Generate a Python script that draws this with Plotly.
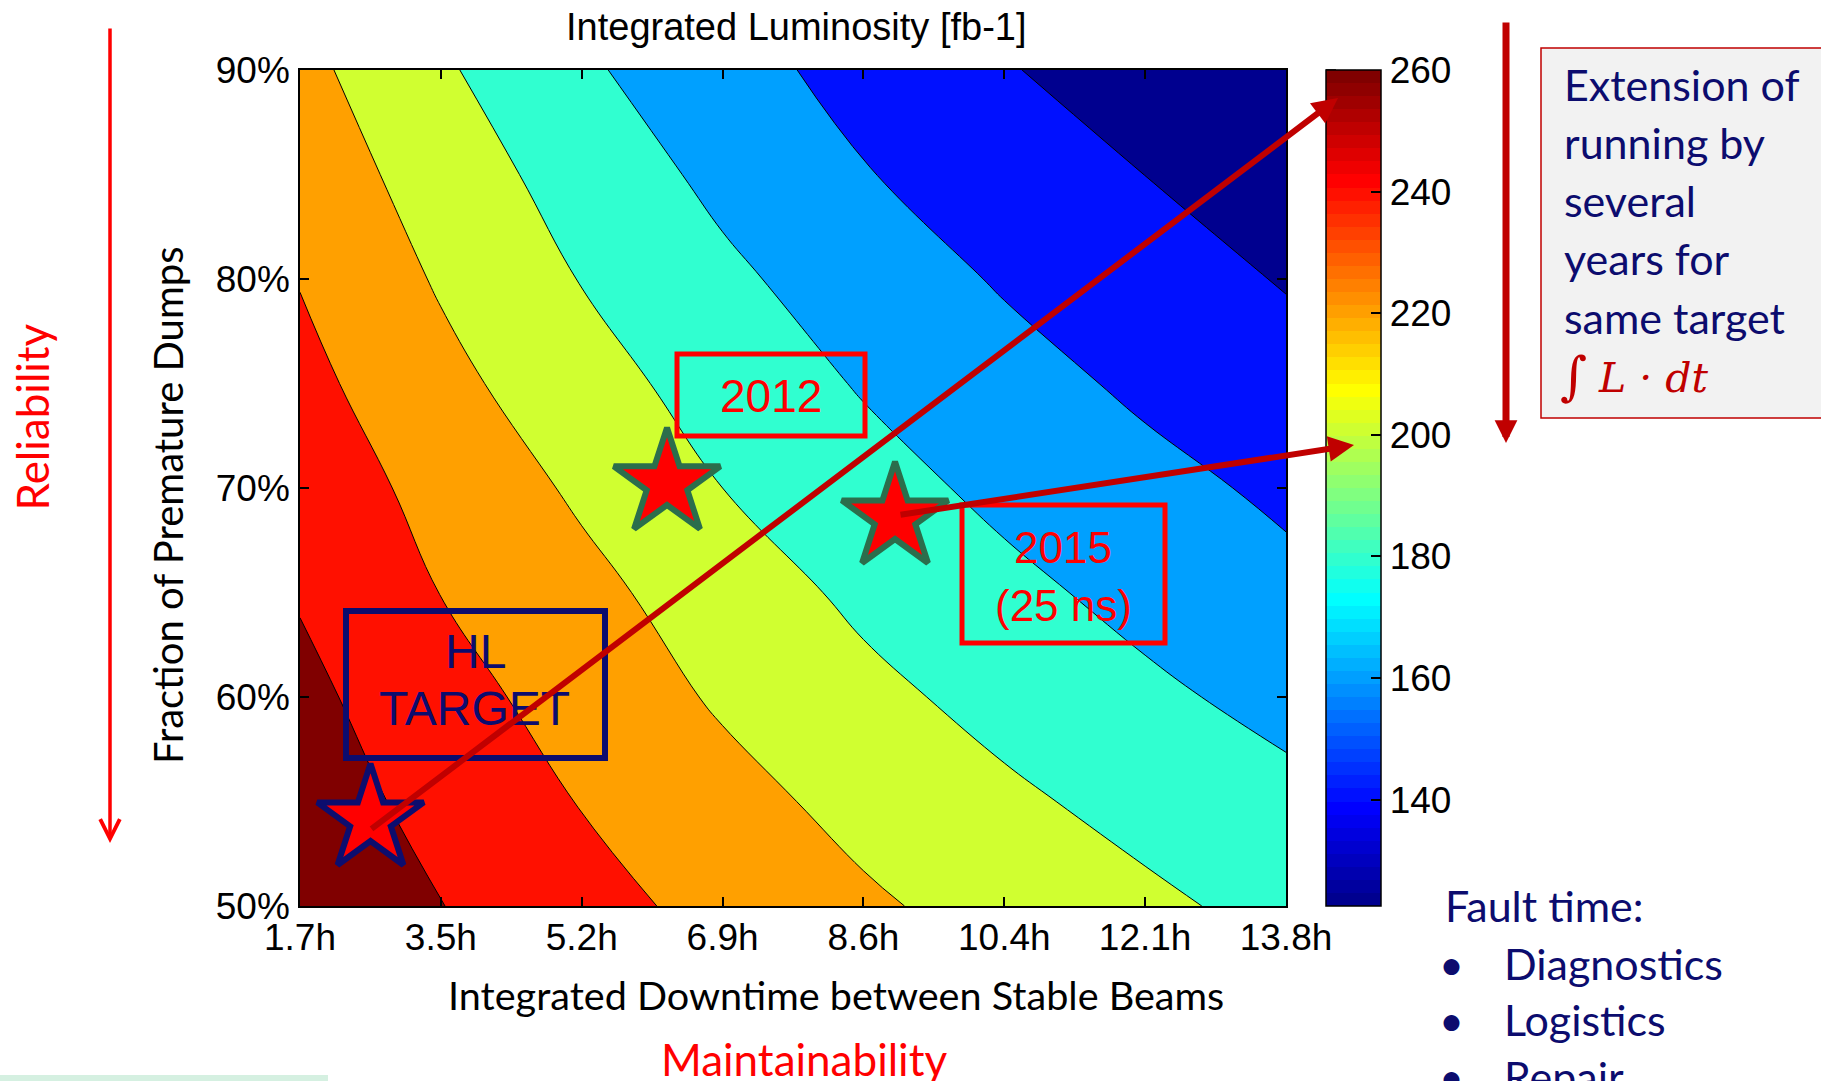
import plotly.graph_objects as go

# ---------------- data ----------------
x_hours = [1.7, 3.4286, 5.1571, 6.8857, 8.6143, 10.3429, 12.0714, 13.8]
x_tick_labels = ["1.7h", "3.5h", "5.2h", "6.9h", "8.6h", "10.4h", "12.1h", "13.8h"]

y_fraction = [0.50, 0.55, 0.60, 0.65, 0.70, 0.75, 0.80, 0.85, 0.90]
y_tick_vals = [0.5, 0.6, 0.7, 0.8, 0.9]
y_tick_labels = ["50%", "60%", "70%", "80%", "90%"]

# integrated luminosity [fb-1], rows = y_fraction, cols = x_hours
lumi = [
    [274.0, 260.2, 246.7, 234.5, 223.4, 213.8, 204.7, 195.5],
    [269.0, 254.1, 239.4, 226.7, 215.1, 204.5, 195.0, 186.2],
    [264.5, 247.4, 232.1, 218.3, 205.9, 195.0, 185.0, 176.0],
    [258.3, 239.9, 225.9, 210.9, 197.0, 186.0, 176.0, 166.5],
    [251.8, 234.1, 217.6, 201.0, 188.4, 177.1, 167.4, 158.4],
    [245.7, 226.1, 208.4, 193.2, 179.9, 168.8, 158.4, 149.3],
    [239.4, 218.6, 200.3, 185.1, 172.0, 160.0, 150.4, 141.0],
    [232.5, 211.6, 192.6, 176.9, 162.8, 152.3, 142.1, 132.5],
    [226.0, 203.6, 184.3, 168.9, 155.5, 143.6, 132.5, 122.5],
]

level_start, level_end, level_size = 142.2, 259.8, 19.6
band_colors = ["#00008F", "#0010FF", "#00A0FF", "#30FFD0",
               "#D0FF30", "#FFA000", "#FF1000", "#800000"]

cbar_min, cbar_max = 122.5, 260.0
cbar_ticks = [140, 160, 180, 200, 220, 240, 260]

marker_names = ["HL target", "2012", "2015"]
marker_x = [2.565, 6.204, 9.002]
marker_y = [0.5413, 0.7021, 0.6858]

# ---------------- styles ----------------
marker_edge = ["#0D0D6E", "#2B6E4C", "#2B6E4C"]
STAR_SIZE = 80

# ---------------- page geometry ----------------
W, H = 1821, 1081
ML, MR, MT, MB = 300, 535, 70, 175
PW, PH = W - ML - MR, H - MT - MB


def px(x):
    return (x - ML) / PW


def py(y):
    return (H - MB - y) / PH


def jet64():
    n = 16
    u = [i / n for i in range(1, n + 1)] + [1.0] * (n - 1) + [i / n for i in range(n, 0, -1)]
    cols = [[0.0, 0.0, 0.0] for _ in range(64)]
    for k, val in enumerate(u, start=1):
        gi = 8 + k
        ri = gi + n
        bi = gi - n
        if 1 <= ri <= 64:
            cols[ri - 1][0] = val
        if 1 <= gi <= 64:
            cols[gi - 1][1] = val
        if 1 <= bi <= 64:
            cols[bi - 1][2] = val
    scale = []
    for i, c in enumerate(cols):
        rgb = "rgb(%d,%d,%d)" % tuple(round(v * 255) for v in c)
        scale.append([i / 64, rgb])
        scale.append([(i + 1) / 64, rgb])
    return scale


ARIAL = "Liberation Sans, Arial, sans-serif"
CALIBRI = "Lato, Open Sans, sans-serif"
NAVY = "#0C0C6E"

fig = go.Figure()

fig.add_trace(go.Contour(
    x=x_hours, y=y_fraction, z=lumi,
    autocontour=False,
    contours=dict(start=level_start, end=level_end, size=level_size,
                  coloring="fill", showlines=True),
    line=dict(color="black", width=1, smoothing=1.2),
    colorscale=[[k / 7, band_colors[k]] for k in range(8)],
    showscale=False, hoverinfo="skip",
))

# dummy trace that carries the continuous jet colorbar
fig.add_trace(go.Scatter(
    x=[0], y=[0], mode="markers", hoverinfo="skip", showlegend=False,
    marker=dict(size=1, color=[cbar_min], colorscale=jet64(),
                cmin=cbar_min, cmax=cbar_max, showscale=True,
                colorbar=dict(x=px(1326), xanchor="left", xpad=0, ypad=0,
                              y=0.5, yanchor="middle", len=1, lenmode="fraction",
                              thickness=55, thicknessmode="pixels",
                              outlinewidth=1.5, outlinecolor="black",
                              tickvals=cbar_ticks, ticks="inside", ticklen=10,
                              tickwidth=1.5, tickcolor="black",
                              tickfont=dict(family=ARIAL, size=37, color="black"))),
))

fig.add_trace(go.Scatter(
    x=marker_x, y=marker_y, mode="markers", text=marker_names,
    hoverinfo="text", showlegend=False,
    marker=dict(symbol="star", size=STAR_SIZE, color="#FF0000",
                line=dict(color=marker_edge, width=6)),
))

axis_common = dict(ticks="inside", ticklen=9, tickwidth=1.5, tickcolor="black",
                   showline=True, linecolor="black", linewidth=1.5, mirror="ticks",
                   showgrid=False, zeroline=False,
                   tickfont=dict(family=ARIAL, size=37, color="black"))

fig.update_xaxes(range=[1.7, 13.8], tickvals=x_hours, ticktext=x_tick_labels,
                 ticklabelstandoff=-2, **axis_common)
fig.update_yaxes(range=[0.5, 0.9], tickvals=y_tick_vals, ticktext=y_tick_labels,
                 ticklabelstandoff=1, **axis_common)

# left-side colorbar tick marks (MATLAB draws them on both sides)
for v in cbar_ticks:
    yy = (v - cbar_min) / (cbar_max - cbar_min)
    fig.add_shape(type="line", xref="paper", yref="paper",
                  x0=px(1326), x1=px(1336), y0=yy, y1=yy,
                  line=dict(color="black", width=1.5), layer="above")


def rect(x0, y0, x1, y1, color, width, fill=None):
    fig.add_shape(type="rect", xref="paper", yref="paper",
                  x0=px(x0), x1=px(x1), y0=py(y0), y1=py(y1),
                  line=dict(color=color, width=width),
                  fillcolor=fill if fill else "rgba(0,0,0,0)", layer="above")


def label(text, x, y, size, color, family, xanchor="center", angle=0):
    fig.add_annotation(text=text, x=px(x), y=py(y), xref="paper", yref="paper",
                       showarrow=False, xanchor=xanchor, yanchor="middle",
                       textangle=angle, font=dict(size=size, color=color, family=family))


def arrow(x0, y0, x1, y1, color, width, head, hsize):
    fig.add_annotation(text="", x=px(x1), y=py(y1), xref="paper", yref="paper",
                       ax=x0 - x1, ay=y0 - y1, axref="pixel", ayref="pixel",
                       showarrow=True, arrowcolor=color, arrowwidth=width,
                       arrowhead=head, arrowsize=hsize, standoff=0, startstandoff=0)


# boxes
rect(677, 354, 865, 436, "#FF0000", 5)
rect(962, 505, 1165, 643, "#FF0000", 5)
rect(346, 611, 605, 758, NAVY, 6)
rect(1541, 48, 1835, 418, "#C00000", 1.5, fill="#F2F2F2")
rect(-5, 1075, 328, 1090, "rgba(0,0,0,0)", 0, fill="#D5F0E1")

# texts
label("Integrated Luminosity [fb-1]", 795.5, 27, 38, "black", ARIAL)
label("Fraction of Premature Dumps", 168, 505, 40, "black", CALIBRI, angle=-90)
label("Reliability", 31, 417.5, 44, "#FF0000", CALIBRI, angle=-90)
label("Integrated Downtime between Stable Beams", 835.5, 995, 39.6, "black", CALIBRI)
label("Maintainability", 804, 1059, 44, "#FF0000", CALIBRI)

label("2012", 771, 396, 46, "#FF0000", ARIAL)
label("2015", 1063, 547, 44, "#FF0000", ARIAL)
label("(25 ns)", 1063, 605, 44, "#FF0000", ARIAL)
label("HL", 475, 651, 48, NAVY, ARIAL)
label("TARGET", 474, 708, 48, NAVY, ARIAL)

box_lines = ["Extension of", "running by", "several", "years for", "same target"]
for i, t in enumerate(box_lines):
    label(t, 1562, 84 + 58.3 * i, 43, NAVY, CALIBRI, xanchor="left")
label("<i>\u222b</i>", 1558, 376, 52, "#C00000", "DejaVu Serif, serif", xanchor="left")
label("<i>L \u00b7 dt</i>", 1596, 378, 41, "#C00000", "DejaVu Serif, serif", xanchor="left")

label("Fault time:", 1443, 905, 43, NAVY, CALIBRI, xanchor="left")
for t, yy in zip(["Diagnostics", "Logistics", "Repair"], [963, 1019.5, 1076]):
    label("\u2022", 1451, yy, 43, NAVY, CALIBRI)
    label(t, 1502, yy, 43, NAVY, CALIBRI, xanchor="left")

# arrows
arrow(110, 27, 110, 843, "#FF0000", 3.5, 5, 1.1)
arrow(1506, 21, 1506, 443, "#C00000", 7, 2, 0.65)
arrow(370, 830, 1338, 98, "#C00000", 6, 2, 0.85)
arrow(899, 515, 1354, 445, "#C00000", 6, 2, 0.85)

fig.update_layout(
    width=W, height=H,
    margin=dict(l=ML, r=MR, t=MT, b=MB, autoexpand=False),
    paper_bgcolor="white", plot_bgcolor="white",
    showlegend=False,
)

fig.write_html("out.html", include_plotlyjs=True, config={"displayModeBar": False},
               post_script="document.body.style.margin='0px';")
